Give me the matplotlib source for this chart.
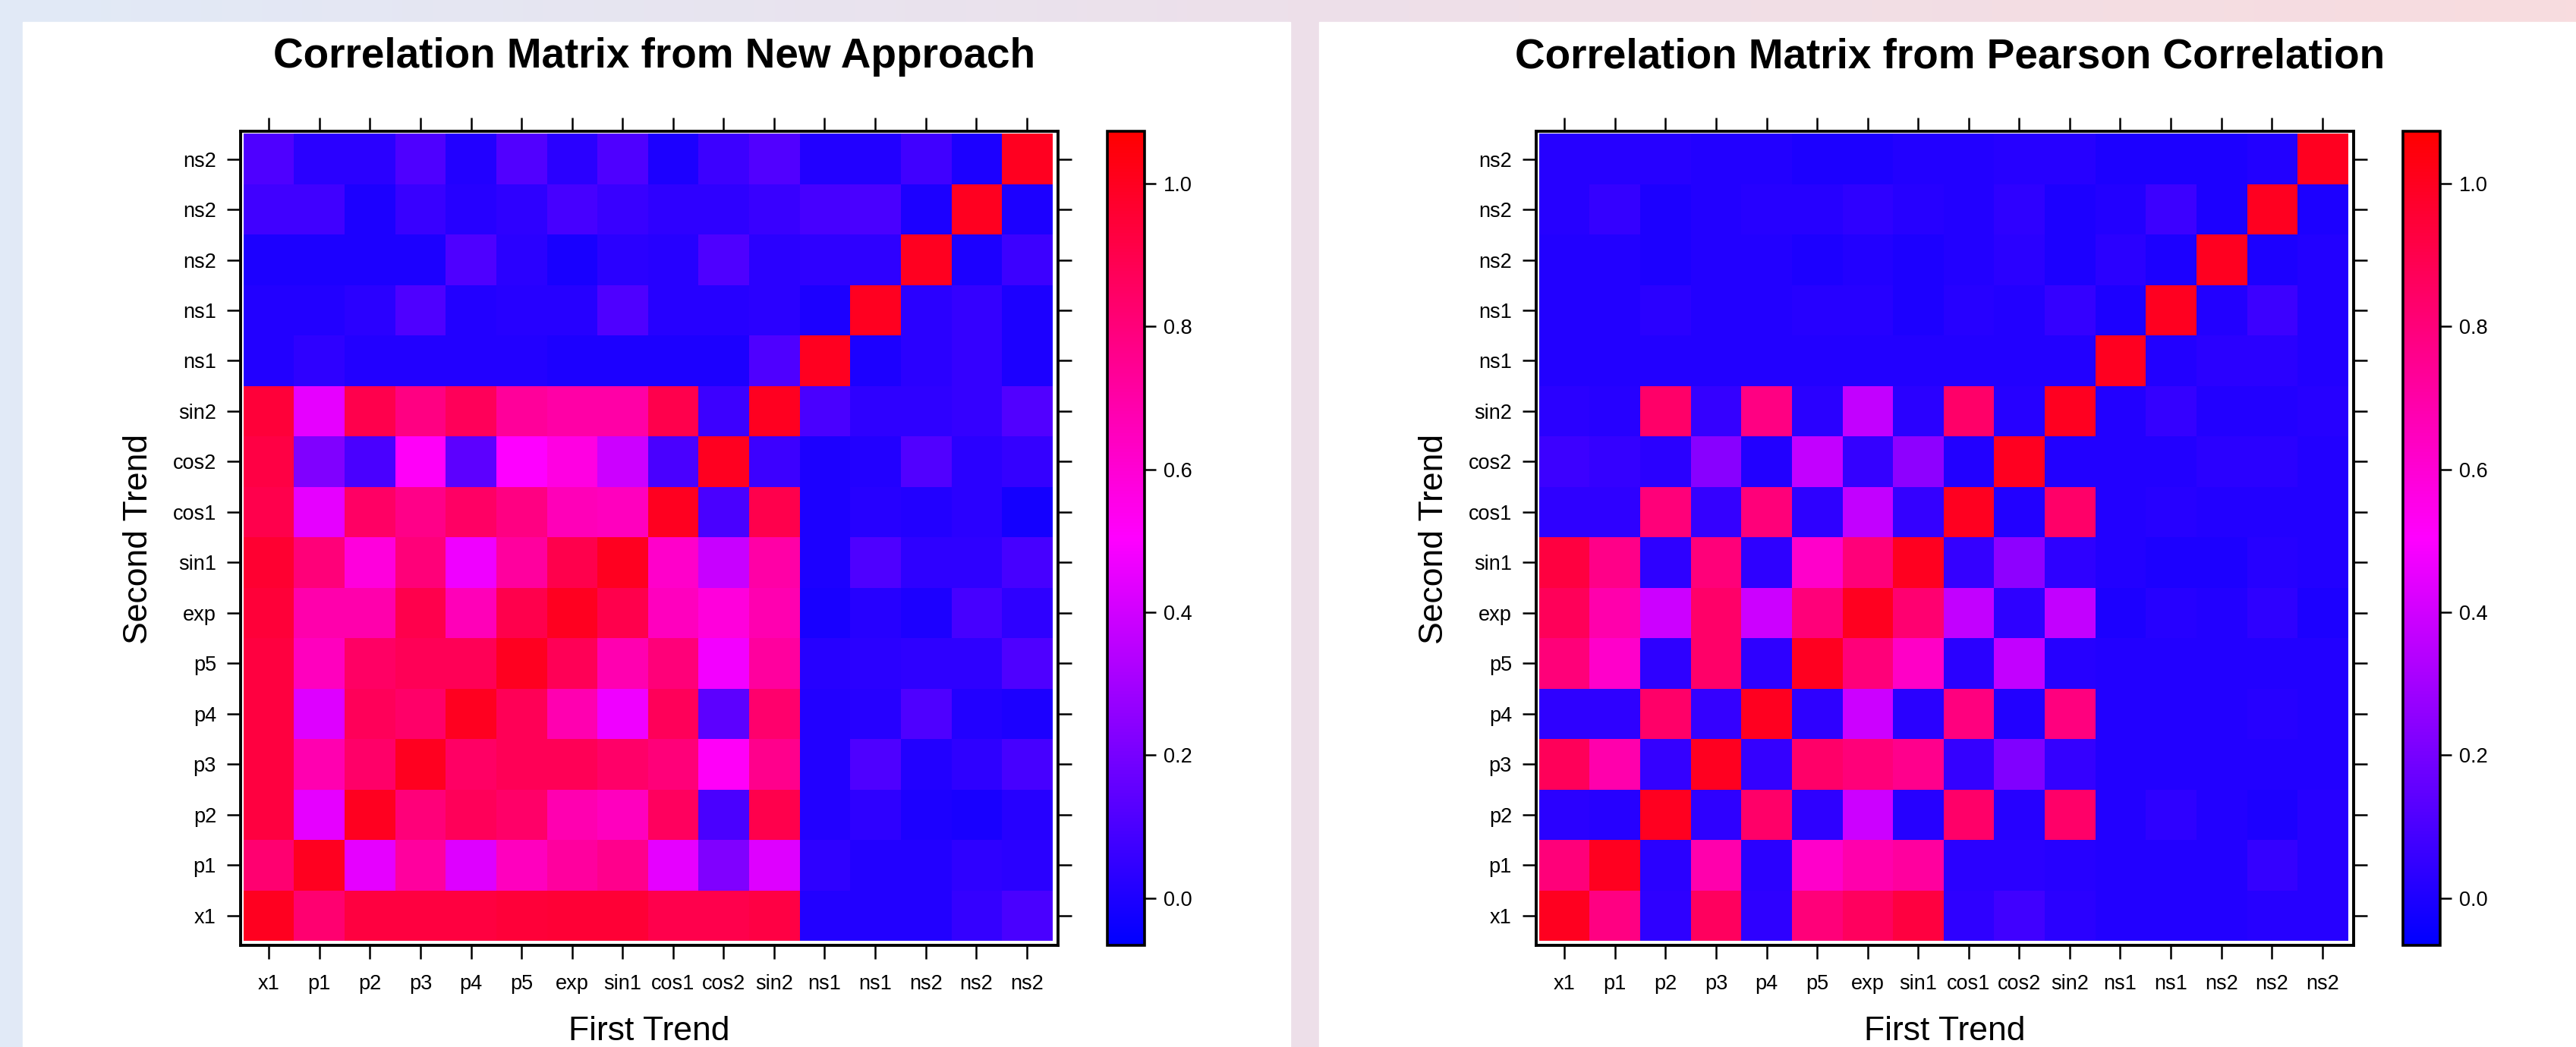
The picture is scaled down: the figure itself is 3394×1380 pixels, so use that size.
import numpy as np
import matplotlib.pyplot as plt
from matplotlib.colors import LinearSegmentedColormap
from matplotlib.patches import Rectangle

plt.rcParams['font.family'] = ['Liberation Sans', 'DejaVu Sans']

labels = ["x1", "p1", "p2", "p3", "p4", "p5", "exp", "sin1", "cos1", "cos2",
          "sin2", "ns1", "ns1", "ns2", "ns2", "ns2"]

# rows go bottom (x1) to top (ns2), columns left to right
new_approach = np.array([
    [1.00, 0.82, 0.93, 0.93, 0.93, 0.94, 0.95, 0.95, 0.90, 0.90, 0.92, 0.01, 0.01, 0.01, 0.05, 0.10],
    [0.82, 1.00, 0.45, 0.72, 0.43, 0.65, 0.72, 0.76, 0.45, 0.22, 0.43, 0.04, 0.01, 0.01, 0.04, 0.03],
    [0.93, 0.45, 1.00, 0.80, 0.87, 0.84, 0.68, 0.65, 0.86, 0.10, 0.90, 0.01, 0.04, 0.00, -0.01, 0.02],
    [0.93, 0.68, 0.84, 1.00, 0.85, 0.88, 0.88, 0.84, 0.80, 0.52, 0.76, 0.01, 0.11, 0.01, 0.04, 0.09],
    [0.93, 0.43, 0.87, 0.84, 1.00, 0.88, 0.68, 0.47, 0.87, 0.14, 0.83, 0.01, 0.02, 0.11, 0.01, 0.00],
    [0.93, 0.65, 0.85, 0.88, 0.88, 1.00, 0.88, 0.68, 0.80, 0.48, 0.72, 0.02, 0.03, 0.04, 0.04, 0.11],
    [0.94, 0.69, 0.69, 0.90, 0.66, 0.90, 1.00, 0.90, 0.65, 0.58, 0.68, -0.01, 0.02, 0.00, 0.09, 0.04],
    [0.96, 0.80, 0.58, 0.80, 0.47, 0.72, 0.90, 1.00, 0.62, 0.38, 0.70, 0.00, 0.11, 0.04, 0.04, 0.09],
    [0.90, 0.45, 0.85, 0.77, 0.85, 0.78, 0.66, 0.65, 1.00, 0.10, 0.90, 0.00, 0.02, 0.01, 0.03, -0.02],
    [0.92, 0.22, 0.10, 0.52, 0.14, 0.50, 0.57, 0.39, 0.10, 1.00, 0.07, 0.00, 0.01, 0.12, 0.03, 0.05],
    [0.94, 0.45, 0.90, 0.78, 0.87, 0.73, 0.70, 0.70, 0.90, 0.07, 1.00, 0.10, 0.04, 0.04, 0.05, 0.12],
    [0.01, 0.04, 0.01, 0.01, 0.01, 0.01, 0.00, 0.00, 0.00, 0.00, 0.11, 1.00, 0.00, 0.03, 0.05, 0.00],
    [0.01, 0.01, 0.03, 0.11, 0.01, 0.02, 0.02, 0.11, 0.02, 0.02, 0.03, 0.00, 1.00, 0.03, 0.05, 0.00],
    [0.00, 0.00, 0.00, 0.00, 0.11, 0.03, -0.01, 0.03, 0.02, 0.11, 0.03, 0.04, 0.04, 1.00, 0.00, 0.07],
    [0.08, 0.08, 0.00, 0.06, 0.02, 0.04, 0.09, 0.06, 0.04, 0.04, 0.06, 0.09, 0.10, 0.00, 1.00, 0.00],
    [0.11, 0.03, 0.03, 0.11, 0.01, 0.12, 0.03, 0.11, 0.00, 0.07, 0.12, 0.01, 0.01, 0.08, 0.00, 1.00],
])

pearson = np.array([
    [1.00, 0.78, 0.04, 0.86, 0.04, 0.80, 0.86, 0.93, 0.04, 0.08, 0.03, 0.01, 0.01, 0.01, 0.02, 0.02],
    [0.80, 1.00, 0.03, 0.69, 0.03, 0.62, 0.69, 0.72, 0.03, 0.03, 0.02, 0.01, 0.01, 0.01, 0.05, 0.02],
    [0.03, 0.02, 1.00, 0.04, 0.84, 0.04, 0.39, 0.02, 0.84, 0.02, 0.84, 0.01, 0.04, 0.01, 0.00, 0.02],
    [0.87, 0.69, 0.05, 1.00, 0.05, 0.84, 0.80, 0.76, 0.05, 0.22, 0.05, 0.01, 0.01, 0.01, 0.01, 0.01],
    [0.04, 0.04, 0.84, 0.05, 1.00, 0.04, 0.39, 0.03, 0.79, 0.01, 0.79, 0.01, 0.01, 0.01, 0.02, 0.01],
    [0.80, 0.62, 0.04, 0.84, 0.04, 1.00, 0.80, 0.63, 0.03, 0.37, 0.02, 0.01, 0.01, 0.01, 0.01, 0.01],
    [0.87, 0.69, 0.39, 0.84, 0.39, 0.80, 1.00, 0.82, 0.37, 0.04, 0.37, 0.00, 0.02, 0.01, 0.04, 0.00],
    [0.93, 0.77, 0.04, 0.80, 0.04, 0.62, 0.80, 1.00, 0.05, 0.25, 0.04, 0.01, 0.00, 0.00, 0.02, 0.01],
    [0.04, 0.04, 0.80, 0.05, 0.80, 0.04, 0.37, 0.05, 1.00, 0.01, 0.84, 0.01, 0.02, 0.01, 0.01, 0.01],
    [0.07, 0.05, 0.03, 0.24, 0.01, 0.37, 0.05, 0.25, 0.01, 1.00, 0.01, 0.01, 0.01, 0.03, 0.03, 0.01],
    [0.03, 0.02, 0.84, 0.05, 0.78, 0.03, 0.37, 0.03, 0.84, 0.02, 1.00, 0.01, 0.05, 0.01, 0.01, 0.02],
    [0.01, 0.01, 0.01, 0.01, 0.01, 0.01, 0.01, 0.01, 0.01, 0.01, 0.01, 1.00, 0.01, 0.03, 0.03, 0.01],
    [0.01, 0.01, 0.03, 0.01, 0.01, 0.02, 0.02, 0.00, 0.02, 0.01, 0.05, 0.00, 1.00, 0.01, 0.07, 0.01],
    [0.01, 0.01, 0.00, 0.01, 0.01, 0.00, 0.01, 0.00, 0.01, 0.03, 0.00, 0.03, 0.00, 1.00, 0.00, 0.01],
    [0.02, 0.05, 0.00, 0.01, 0.02, 0.02, 0.04, 0.02, 0.01, 0.04, 0.00, 0.01, 0.07, 0.00, 1.00, 0.00],
    [0.02, 0.02, 0.02, 0.01, 0.01, 0.00, 0.00, 0.01, 0.01, 0.02, 0.02, 0.00, 0.00, 0.00, 0.01, 1.00],
])

cbar_ticks = [0.0, 0.2, 0.4, 0.6, 0.8, 1.0]
vmin, vmax = -0.066, 1.073

W, H = 3394, 1380
fig = plt.figure(figsize=(W / 100, H / 100), dpi=100)


def box(x0, y0, x1, y1):
    # pixel box (top-left origin) -> figure fraction
    return [x0 / W, 1 - y1 / H, (x1 - x0) / W, (y1 - y0) / H]


# page background gradient
bg = fig.add_axes([0, 0, 1, 1])
grad_cmap = LinearSegmentedColormap.from_list("bg", ["#E1EAF7", "#EDE0EA", "#F8DCDF"])
bg.imshow(np.linspace(0, 1, 256)[None, :], cmap=grad_cmap, aspect="auto", extent=(0, 1, 0, 1))
bg.set_xlim(0, 1)
bg.set_ylim(0, 1)
bg.axis("off")
bg.add_patch(Rectangle((30 / W, 0), (1700 - 30) / W, 1 - 29 / H, color="white"))
bg.add_patch(Rectangle((1738 / W, 0), (W - 1738) / W, 1 - 29 / H, color="white"))

cmap = LinearSegmentedColormap.from_list("bmr", ["#0000FF", "#FF00FF", "#FF0000"])


def draw_panel(data, title, x0):
    ax = fig.add_axes(box(x0, 173, x0 + 1077, 1246))
    im = ax.imshow(data, cmap=cmap, vmin=vmin, vmax=vmax, origin="lower",
                   interpolation="nearest", aspect="auto")
    ax.set_xlim(-0.56, 15.62)
    ax.set_ylim(-0.59, 15.55)
    ax.set_xticks(range(len(labels)))
    ax.set_xticklabels(labels)
    ax.set_yticks(range(len(labels)))
    ax.set_yticklabels(labels)
    ax.tick_params(direction="out", length=13, width=1.8, labelsize=19.5,
                   top=True, right=True, color="black")
    ax.tick_params(axis="x", pad=14)
    ax.tick_params(axis="y", pad=10)
    for s in ax.spines.values():
        s.set_linewidth(2.8)

    cax = fig.add_axes(box(x0 + 1142, 173, x0 + 1191, 1246))
    cb = fig.colorbar(im, cax=cax, ticks=cbar_ticks, format="%.1f")
    cb.outline.set_linewidth(2.6)
    cax.tick_params(length=11, width=1.8, labelsize=19.5, pad=7)

    fig.text((x0 + 545) / W, 1 - 89 / H, title, ha="center", va="baseline",
             fontsize=39.5, fontweight="bold")
    fig.text((x0 - 135) / W, 1 - 710 / H, "Second Trend", rotation=90,
             ha="center", va="center", fontsize=32)
    fig.text((x0 + 538) / W, 1 - 1339 / H, "First Trend", ha="center",
             va="top", fontsize=32)


draw_panel(new_approach, "Correlation Matrix from New Approach", 317)
draw_panel(pearson, "Correlation Matrix from Pearson Correlation", 2024)

fig.savefig("out.png", dpi=100)
